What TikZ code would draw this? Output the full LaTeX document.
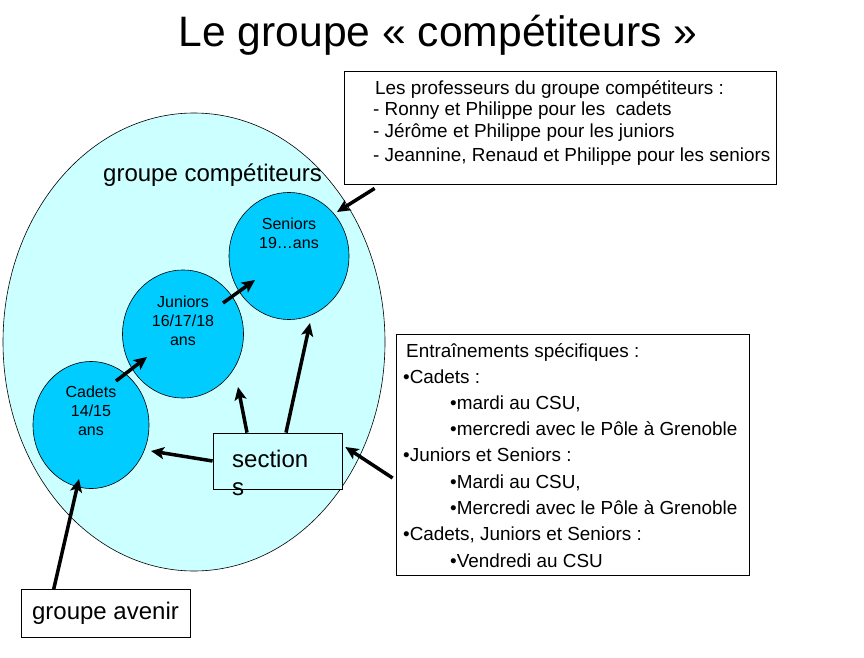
\documentclass[tikz,border=0pt]{standalone}
\usepackage{fontspec}
\setmainfont{Liberation Sans}
\usetikzlibrary{shapes.geometric,arrows.meta}
\definecolor{pale}{HTML}{CCFFFF}
\definecolor{sky}{HTML}{00CCFF}
\begin{document}
\begin{tikzpicture}[x=1pt,y=-1pt,line cap=butt,line join=miter,>={Stealth[length=13pt,width=12pt,inset=3pt]},
	every node/.style={inner sep=0pt},
	agegroup/.style={ellipse,draw,line width=.6pt,fill=sky},
	box/.style={rectangle,draw,line width=.8pt},
	arr/.style={->,line width=3.5pt},
	small/.style={font=\fontsize{16}{19}\selectfont,align=center},
	mid/.style={font=\fontsize{18.9}{21}\selectfont,anchor=base west},
	big/.style={font=\fontsize{24}{28}\selectfont}]
	\useasboundingbox (0,0) rectangle (864,658);
	\node[anchor=base,font=\fontsize{42.6}{48}\selectfont] (title) at (438,47) {Le groupe « compétiteurs »};
	\node[ellipse,draw,line width=.6pt,fill=pale,minimum width=382pt,minimum height=458pt] (groupe) at (194,342) {};
	\node[big,anchor=base west] (groupeT) at (103,181) {groupe compétiteurs};
	\node[agegroup,minimum width=120pt,minimum height=127pt] (seniors) at (289,256) {};
	\node[agegroup,minimum width=121pt,minimum height=128pt] (juniors) at (183,334) {};
	\node[agegroup,minimum width=116pt,minimum height=127pt] (cadets) at (91,425) {};
	\node[small] (seniorsT) at (289,233) {Seniors\\19…ans};
	\node[small] (juniorsT) at (183,321) {Juniors\\16/17/18\\ans};
	\node[small] (cadetsT) at (91,411) {Cadets\\14/15\\ans};
	\node[box,fill=white,minimum width=432pt,minimum height=113pt] (prof) at (560,127.5) {};
	\foreach \x/\y/\t [count=\i] in {375/95/{Les professeurs du groupe compétiteurs :},373/116/{- Ronny et Philippe pour les \ cadets},373/137/{- Jérôme et Philippe pour les juniors},373/161/{- Jeannine, Renaud et Philippe pour les seniors}}
		\node[mid] (prof\i) at (\x,\y) {\t};
	\node[box,fill=white,minimum width=353pt,minimum height=241pt] (entr) at (572.5,454.5) {};
	\foreach \x/\y/\t [count=\i] in {406/357/{Entraînements spécifiques :},403/383/{•Cadets :},450/409/{•mardi au CSU,},450/435/{•mercredi avec le Pôle à Grenoble},403/461/{•Juniors et Seniors :},450/488/{•Mardi au CSU,},450/514/{•Mercredi avec le Pôle à Grenoble},403/540/{•Cadets, Juniors et Seniors :},450/567/{•Vendredi au CSU}}
		\node[mid] (entr\i) at (\x,\y) {\t};
	\node[box,fill=pale,minimum width=129pt,minimum height=56pt] (sec) at (277.5,461) {};
	\node[big,anchor=base west] (secA) at (232,467) {section};
	\node[big,anchor=base west] (secB) at (232,495) {s};
	\node[box,fill=white,minimum width=169pt,minimum height=48pt,big] (avenir) at (105.5,613) {groupe avenir};
	\coordinate (gap) at (238,387);
	\draw[arr] ([shift={(25,-44)}]cadets.center) -- ([shift={(-36,23)}]juniors.center);
	\draw[arr] ([shift={(40,-31)}]juniors.center) -- ([shift={(-34,24)}]seniors.center);
	\draw[arr] (sec.west) -- ([shift={(60,26)}]cadets.center);
	\draw[arr] ([xshift=-30.5pt]sec.north) -- (gap);
	\draw[arr] ([xshift=8.5pt]sec.north) -- ([shift={(21,67)}]seniors.center);
	\draw[arr] ([shift={(-3,23.5)}]entr.west) -- ([shift={(3,-14)}]sec.east);
	\draw[arr] ([shift={(31,4)}]prof.south west) -- ([shift={(48,-44)}]seniors.center);
	\draw[arr] ([shift={(33,1)}]avenir.north west) -- ([shift={(-12,54)}]cadets.center);
\end{tikzpicture}
\end{document}
